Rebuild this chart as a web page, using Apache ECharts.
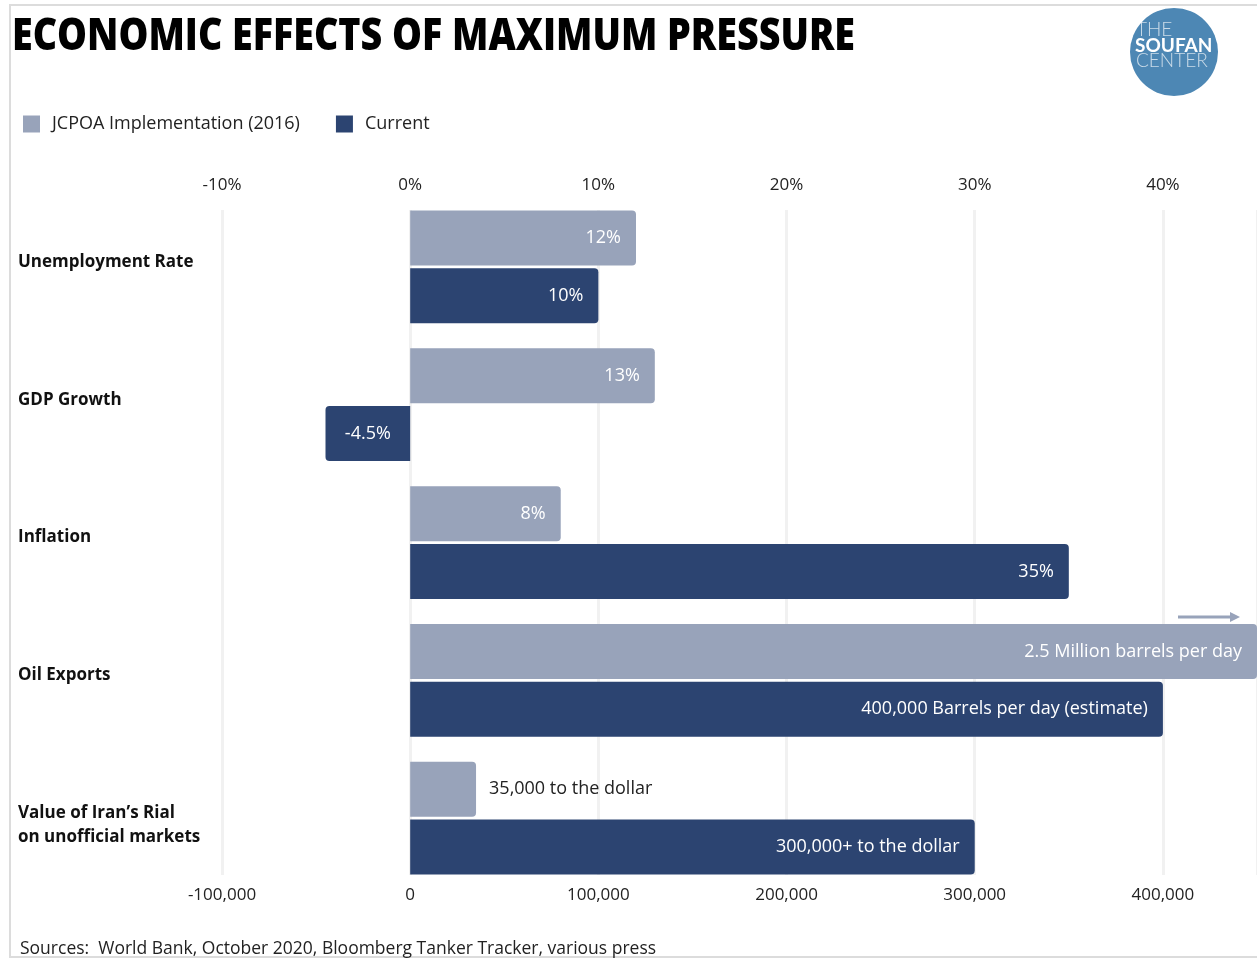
<!DOCTYPE html>
<html>
<head>
<meta charset="utf-8">
<script src="https://cdn.jsdelivr.net/npm/echarts@6/dist/echarts.min.js"></script>
<style>
html, body { margin: 0; padding: 0; background: #fff; }
#main { width: 1257px; height: 959px; }
</style>
</head>
<body>
<div id="main"></div>
<script>
var categories = ['Unemployment Rate', 'GDP Growth', 'Inflation', 'Oil Exports', 'Value of Iran\u2019s Rial\non unofficial markets'];
// percent measures, read on the top axis
var jcpoaPct = ['12', '13', '8', '-', '-'];
var currentPct = ['10', '-4.5', '35', '-', '-'];
// counts (barrels per day, rials per dollar), read on the bottom axis
var jcpoaCount = ['-', '-', '-', 2500000, 35000];
var currentCount = ['-', '-', '-', 400000, 300000];
var jcpoaText = ['12%', '13%', '8%', '2.5 Million barrels per day', '35,000 to the dollar'];
var currentText = ['10%', '-4.5%', '35%', '400,000 Barrels per day (estimate)', '300,000+ to the dollar'];
var pctTicks = [-10, 0, 10, 20, 30, 40];
var countTicks = [-100000, 0, 100000, 200000, 300000, 400000];

var LIGHT = '#98a3ba';
var DARK = '#2c4471';
var FONT = '"Open Sans", Lato, sans-serif';
var TITLE = 'ECONOMIC EFFECTS OF MAXIMUM PRESSURE';
var titleFont = '800 44px "Open Sans"';

// squeeze the title to the reference width
var ctx = document.createElement('canvas').getContext('2d');
ctx.font = titleFont;
var titleScale = 843 / ctx.measureText(TITLE).width;

function barItems(vals, texts, outsideIdx) {
  return vals.map(function (v, i) {
    if (v === '-') return '-';
    var n = +v;
    var item = {
      value: n,
      itemStyle: { borderRadius: n < 0 ? [4, 0, 0, 4] : [0, 4, 4, 0] },
      label: { formatter: texts[i] }
    };
    if (n < 0) item.label.position = 'inside';
    if (i === outsideIdx) {
      item.label.position = 'right';
      item.label.color = '#222';
      item.label.distance = 13;
    }
    return item;
  });
}

var catStyle = { fontWeight: 'bold', fontSize: 17, fontFamily: FONT, color: '#111', align: 'left', lineHeight: 24 };

var barLabel = { show: true, position: 'insideRight', distance: 15, color: '#fff', fontSize: 18, fontFamily: FONT };

var myChart = echarts.init(document.getElementById('main'));
var option = {
  animation: false,
  legend: {
    left: 18, top: 110,
    icon: 'rect', itemWidth: 17, itemHeight: 17, itemGap: 36,
    data: ['JCPOA Implementation (2016)', 'Current'],
    textStyle: { fontFamily: FONT, fontSize: 18, color: '#222', padding: [0, 0, 0, 7] }
  },
  grid: [
    { left: 222, right: 0, top: 198, bottom: 72, containLabel: false, outerBoundsMode: 'none' },
    { left: 222, right: 0, top: 210, bottom: 84, containLabel: false, outerBoundsMode: 'none' }
  ],
  xAxis: [
    {
      type: 'value', gridIndex: 0, position: 'top', min: -10, max: 45, interval: 10,
      axisLine: { show: false }, axisTick: { show: false }, splitLine: { show: false },
      axisLabel: {
        margin: 4, fontSize: 17, color: '#222', fontFamily: FONT,
        formatter: function (v) { return pctTicks.indexOf(v) >= 0 ? v + '%' : ''; }
      }
    },
    {
      type: 'value', gridIndex: 0, position: 'bottom', min: -100000, max: 450000, interval: 100000,
      axisLine: { show: false }, axisTick: { show: false }, splitLine: { show: false },
      axisLabel: {
        margin: 0, fontSize: 17, color: '#222', fontFamily: FONT,
        formatter: function (v) { return countTicks.indexOf(v) >= 0 ? v.toLocaleString('en-US') : ''; }
      }
    },
    {
      type: 'value', gridIndex: 1, min: -10, max: 45, interval: 10,
      axisLine: { show: false }, axisTick: { show: false }, axisLabel: { show: false },
      splitLine: { lineStyle: { color: '#f1f1f1', width: 3 } }
    }
  ],
  yAxis: [
    {
      type: 'category', gridIndex: 0, inverse: true, data: categories,
      axisLine: { show: false }, axisTick: { show: false },
      axisLabel: {
        align: 'left', margin: 204, fontWeight: 'bold', fontSize: 17, lineHeight: 24, color: '#111', fontFamily: FONT,
        formatter: function (v, i) {
          var tag = i < 4 ? 'up' : 'dn';
          return v.split('\n').map(function (s) { return '{' + tag + '|' + s + '}'; }).join('\n');
        },
        rich: {
          up: Object.assign({ padding: [0, 0, 10, 0] }, catStyle),
          dn: Object.assign({ padding: [15, 0, 0, 0] }, catStyle)
        }
      }
    },
    { type: 'value', gridIndex: 1, show: false }
  ],
  series: [
    {
      name: 'JCPOA Implementation (2016)', type: 'bar', xAxisIndex: 0, yAxisIndex: 0, stack: 'j',
      barWidth: 55, barGap: '5%', color: LIGHT, label: barLabel,
      data: barItems(jcpoaPct, jcpoaText, -1)
    },
    {
      name: 'Current', type: 'bar', xAxisIndex: 0, yAxisIndex: 0, stack: 'c',
      barWidth: 55, barGap: '5%', color: DARK, label: barLabel,
      data: barItems(currentPct, currentText, -1)
    },
    {
      name: 'JCPOA Implementation (2016)', type: 'bar', xAxisIndex: 1, yAxisIndex: 0, stack: 'j',
      barWidth: 55, barGap: '5%', color: LIGHT, label: barLabel,
      data: barItems(jcpoaCount, jcpoaText, 4)
    },
    {
      name: 'Current', type: 'bar', xAxisIndex: 1, yAxisIndex: 0, stack: 'c',
      barWidth: 55, barGap: '5%', color: DARK, label: barLabel,
      data: barItems(currentCount, currentText, -1)
    }
  ],
  graphic: [
    { type: 'rect', silent: true, shape: { x: 10, y: 5, width: 1300, height: 952 }, style: { fill: 'none', stroke: '#dcdcdc', lineWidth: 2 } },
    { type: 'text', x: 12, y: 37, scaleX: titleScale, style: { text: TITLE, fill: '#000', font: titleFont, verticalAlign: 'middle' } },
    { type: 'circle', shape: { cx: 1174, cy: 52, r: 44 }, style: { fill: '#4d87b4' } },
    { type: 'text', x: 1136, y: 30, style: { text: 'THE', fill: 'rgba(255,255,255,0.7)', font: '300 19px Lato', verticalAlign: 'middle' } },
    { type: 'text', x: 1135, y: 46, style: { text: 'SOUFAN', fill: '#fff', font: 'bold 19px Lato', verticalAlign: 'middle' } },
    { type: 'text', x: 1136, y: 61, style: { text: 'CENTER', fill: 'rgba(255,255,255,0.7)', font: '300 19px Lato', verticalAlign: 'middle' } },
    { type: 'line', shape: { x1: 1178, y1: 617, x2: 1232, y2: 617 }, style: { stroke: LIGHT, lineWidth: 3 } },
    { type: 'polygon', shape: { points: [[1230, 612], [1240, 617], [1230, 622]] }, style: { fill: LIGHT } },
    { type: 'text', x: 20, y: 949, style: { text: 'Sources:  World Bank, October 2020, Bloomberg Tanker Tracker, various press', fill: '#222', font: '17.5px "Open Sans"', verticalAlign: 'middle' } }
  ]
};
myChart.setOption(option);
</script>
</body>
</html>
